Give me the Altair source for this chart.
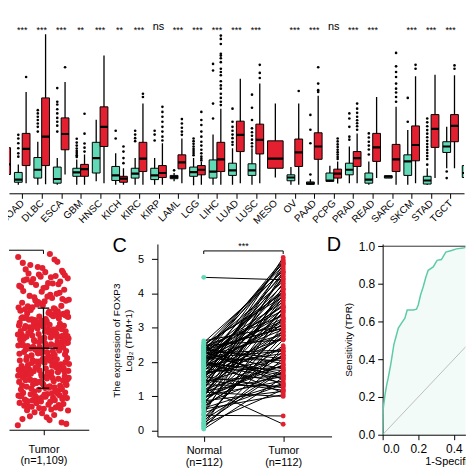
import altair as alt
import pandas as pd

TEAL = "#62D9B6"
RED = "#E3202F"
ROC = "#5ECBA8"
FONT = "Liberation Sans"

# ---------------- Panel A: pan-cancer boxplots ----------------
cancers = ["CHOL", "COAD", "DLBC", "ESCA", "GBM", "HNSC", "KICH", "KIRC", "KIRP",
           "LAML", "LGG", "LIHC", "LUAD", "LUSC", "MESO", "OV", "PAAD", "PCPG",
           "PRAD", "READ", "SARC", "SKCM", "STAD", "TGCT", "THCA"]

# [lower whisker, Q1, median, Q3, upper whisker]
normal_box = [
    [0.30, 0.67, 0.90, 1.40, 2.23], [0.29, 0.37, 0.46, 0.70, 0.97],
    [0.29, 0.51, 0.79, 1.20, 1.73], [0.29, 0.34, 0.48, 0.88, 1.18],
    [0.29, 0.57, 0.70, 0.84, 1.13], [0.40, 0.68, 1.18, 1.71, 2.47],
    [0.29, 0.43, 0.60, 0.90, 1.34], [0.29, 0.51, 0.66, 0.84, 1.18],
    [0.29, 0.46, 0.60, 0.84, 1.18], [0.40, 0.49, 0.54, 0.60, 0.68],
    [0.27, 0.57, 0.71, 0.88, 1.18], [0.29, 0.51, 0.73, 1.12, 1.97],
    [0.29, 0.60, 0.77, 1.01, 1.51], [0.29, 0.60, 0.77, 0.99, 1.51],
    None,
    [0.29, 0.42, 0.53, 0.62, 0.88], [0.29, 0.30, 0.33, 0.38, 0.47],
    [0.40, 0.40, 0.43, 0.68, 0.92], [0.34, 0.62, 0.79, 1.01, 1.57],
    [0.29, 0.34, 0.46, 0.68, 1.07], [0.51, 0.51, 0.56, 0.59, 0.59],
    [0.29, 0.60, 1.07, 1.29, 2.12], [0.29, 0.31, 0.43, 0.57, 0.84],
    [0.84, 1.37, 1.57, 1.73, 2.23], [0.29, 0.53, 0.68, 0.93, 1.18],
]
tumor_box = [
    [0.50, 0.63, 0.97, 1.53, 2.47], [0.34, 0.93, 1.49, 2.01, 3.40],
    [0.30, 0.93, 1.90, 3.20, 5.34], [0.63, 1.46, 1.99, 2.53, 3.73],
    [0.29, 0.57, 0.81, 0.97, 1.30], [0.34, 1.57, 2.23, 2.90, 4.62],
    [0.29, 0.37, 0.49, 0.57, 0.84], [0.29, 0.73, 1.16, 1.71, 3.01],
    [0.29, 0.53, 0.68, 0.93, 1.68], [0.34, 0.82, 1.04, 1.29, 1.84],
    [0.29, 0.62, 0.79, 0.93, 1.05], [0.29, 0.73, 1.14, 1.71, 2.84],
    [0.34, 1.40, 1.96, 2.42, 3.84], [0.34, 1.32, 1.79, 2.32, 3.68],
    [0.53, 0.84, 1.16, 1.76, 3.01],
    [0.29, 0.90, 1.37, 1.82, 3.01], [0.29, 1.14, 1.57, 2.03, 3.27],
    [0.33, 0.51, 0.66, 0.81, 1.07], [0.34, 0.90, 1.18, 1.40, 2.01],
    [0.51, 1.07, 1.54, 2.01, 3.23], [0.29, 0.73, 1.14, 1.64, 2.90],
    [0.34, 1.09, 1.62, 2.26, 3.93], [0.51, 1.54, 2.16, 2.64, 3.98],
    [0.84, 1.73, 2.26, 2.64, 3.96], [0.40, 1.40, 1.90, 2.40, 3.80],
]
normal_out = {
    "COAD": [1.96, 1.84, 1.68, 1.51, 1.34, 1.23],
    "DLBC": [2.79, 2.68, 2.57, 2.46, 2.34, 2.23, 2.07],
    "ESCA": [3.53, 3.07, 2.98, 2.82, 2.68, 2.53, 2.40, 2.27, 2.07],
    "GBM": [1.83, 1.70, 1.60, 1.50, 1.42, 1.35, 1.28, 1.22],
    "KICH": [2.10, 1.84],
    "KIRC": [2.10, 1.97, 1.85, 1.75],
    "KIRP": [2.10, 1.97, 1.77],
    "LAML": [0.77],
    "LGG": [1.84, 1.75, 1.66, 1.57, 1.49, 1.42, 1.35, 1.28],
    "LIHC": [4.34, 4.12, 3.01, 2.51],
    "LUAD": [2.84, 2.40, 2.23, 2.10, 1.97, 1.85, 1.72, 1.63],
    "LUSC": [3.31, 2.87, 2.46, 2.18, 2.05, 1.93, 1.80, 1.68, 1.57],
    "PAAD": [2.63, 2.13, 1.68, 0.63],
    "PRAD": [2.68, 2.51, 2.23, 1.90, 1.80],
    "READ": [2.01, 1.87, 1.73, 1.60, 1.47, 1.30],
    "SKCM": [3.20, 2.40],
    "STAD": [2.51, 2.38, 2.25, 2.12, 2.00, 1.88, 1.76, 1.65, 1.55, 1.45, 1.35, 1.25, 1.15, 0.96],
    "TGCT": [0.73, 0.51],
    "THCA": [2.97, 2.60, 2.35, 2.20, 2.05, 1.92, 1.80, 1.68, 1.57, 1.47, 1.37, 1.30],
}
tumor_out = {
    "CHOL": [4.10],
    "COAD": [3.90],
    "ESCA": [4.23],
    "GBM": [2.67, 2.00, 1.67, 1.53, 1.40],
    "KICH": [1.57, 1.40, 1.18, 1.01],
    "KIRC": [3.34, 3.23],
    "KIRP": [2.90, 2.73, 2.57, 2.40, 2.23, 2.07, 1.90, 1.77],
    "LAML": [2.49, 2.34, 2.20, 2.07, 1.96],
    "LGG": [2.73, 2.46, 2.29, 2.07, 1.90, 1.73, 1.60, 1.46, 1.34, 1.23, 1.16, 1.10],
    "LIHC": [5.29, 5.18, 5.01, 4.68, 4.62, 4.53, 4.40, 4.18, 4.07, 3.96, 3.76, 3.62,
             3.51, 3.34, 3.20, 3.07, 2.96],
    "LUSC": [4.31, 4.04, 3.87],
    "OV": [3.43],
    "PAAD": [4.23, 3.68, 3.46, 3.40],
    "PCPG": [1.84, 1.74, 1.64, 1.55, 1.46, 1.38, 1.30, 1.22, 1.15],
    "PRAD": [3.01, 2.84, 2.70, 2.57, 2.45, 2.35, 2.25, 2.13],
    "SARC": [4.71, 4.26, 4.07, 3.90, 3.68, 3.51, 3.38, 3.23, 3.07],
    "SKCM": [4.31, 4.18],
    "TGCT": [4.29, 4.18],
}
signif = ["***", "***", "***", "***", "**", "***", "**", "***", "ns", "***", "***", "***",
          "***", "***", "", "***", "***", "ns", "***", "***", "", "***", "***", "***", "***"]

# ---------------- Panel B: unpaired tumor samples ----------------
tumor_all = [
    0.03, 0.18, 0.29, 0.11, 0.38, 0.21, 0.33, 0.41, 0.07, 0.26,
    0.47, 0.62, 0.53, 0.68, 0.49, 0.57, 0.65, 0.51, 0.6, 0.55, 0.67, 0.46, 0.63, 0.58, 0.52,
    0.72, 0.91, 0.83, 0.77, 0.98, 0.86, 0.74, 0.95, 0.81, 0.89, 0.71, 0.93, 0.79, 0.85,
    0.97, 0.76, 0.88, 0.82, 0.94, 0.73, 0.9, 0.8, 0.87, 0.96, 0.75, 0.84, 0.92, 0.78,
    1.03, 1.27, 1.41, 1.12, 1.35, 1.08, 1.46, 1.19, 1.31, 1.01, 1.24, 1.44, 1.15, 1.38,
    1.06, 1.29, 1.48, 1.1, 1.33, 1.21, 1.42, 1.04, 1.26, 1.37, 1.14, 1.49, 1.18, 1.3,
    1.07, 1.4, 1.22, 1.45, 1.11, 1.34, 1.02, 1.28, 1.47, 1.16, 1.36, 1.09, 1.25, 1.43,
    1.13, 1.32, 1.2, 1.39,
    1.52, 1.77, 1.63, 1.91, 1.58, 1.84, 1.69, 1.97, 1.55, 1.72, 1.88, 1.61, 1.94, 1.66,
    1.8, 1.51, 1.75, 1.99, 1.6, 1.86, 1.68, 1.93, 1.57, 1.79, 1.64, 1.9, 1.53, 1.73,
    1.96, 1.62, 1.83, 1.7, 1.98, 1.56, 1.78, 1.65, 1.89, 1.54, 1.76, 1.92, 1.59, 1.85,
    1.67, 1.95, 1.71, 1.81,
    2.03, 2.28, 2.41, 2.14, 2.36, 2.07, 2.47, 2.19, 2.32, 2.01, 2.25, 2.44, 2.11, 2.38,
    2.06, 2.29, 2.49, 2.16, 2.34, 2.22, 2.43, 2.04, 2.27, 2.39, 2.13, 2.46, 2.18, 2.31,
    2.09, 2.4, 2.23, 2.45, 2.12, 2.35, 2.02, 2.26, 2.48, 2.17, 2.37, 2.08, 2.24, 2.42,
    2.15, 2.33, 2.2, 2.3,
    2.53, 2.78, 2.64, 2.92, 2.57, 2.85, 2.69, 2.97, 2.55, 2.73, 2.88, 2.61, 2.94, 2.66,
    2.81, 2.51, 2.76, 2.99, 2.6, 2.86, 2.68, 2.93, 2.58, 2.79, 2.63, 2.9, 2.54, 2.74,
    2.96, 2.62, 2.83, 2.71, 2.98, 2.56, 2.77, 2.65, 2.89, 2.52, 2.75, 2.91, 2.59, 2.84,
    2.67, 2.95, 2.72, 2.82,
    3.02, 3.17, 3.26, 3.09, 3.21, 3.05, 3.28, 3.13, 3.19, 3.01, 3.24, 3.11, 3.27, 3.07,
    3.15, 3.22, 3.04, 3.18, 3.29, 3.1, 3.25, 3.06, 3.14, 3.2, 3.03, 3.23, 3.12, 3.16,
    3.34, 3.61, 3.45, 3.82, 3.38, 3.7, 3.52, 3.93, 3.41, 3.66, 3.31, 3.77, 3.49, 3.88,
    3.57, 3.36, 3.73, 3.46, 3.97, 3.63, 3.4, 3.85, 3.54, 3.68, 3.33, 3.79, 3.5, 3.91,
    3.59, 3.43, 3.75, 3.65,
    4.04, 4.27, 4.13, 4.41, 4.08, 4.33, 4.19, 4.47, 4.02, 4.24, 4.37, 4.11, 4.3, 4.16, 4.44,
    4.21, 4.35, 4.05, 4.15, 4.28, 4.39, 4.48,
    4.56, 4.78, 4.63, 4.92, 5.01, 4.69, 4.52, 4.6, 4.75, 4.85,
]

# ---------------- Panel C: paired samples ----------------
paired_normal = [
    4.47, 1.25, 0.45, 0.05, 0.12, 0.18, 0.25, 0.31, 0.38, 0.52, 0.58, 0.63, 0.69, 0.74,
    0.79, 0.83, 0.87, 0.91, 0.95, 0.99, 1.02, 1.06, 1.09, 1.12, 1.15, 1.18, 1.21, 1.28,
    1.31, 1.34, 1.37, 1.40, 1.43, 1.46, 1.49, 1.52, 1.55, 1.58, 1.61, 1.64, 1.67, 1.70,
    1.72, 1.75, 1.78, 1.80, 1.83, 1.86, 1.88, 1.91, 1.93, 1.96, 1.98, 2.01, 2.03, 2.06,
    2.08, 2.10, 2.13, 2.15, 2.17, 2.20, 2.22, 2.24, 2.26, 2.28, 2.30, 2.32, 2.34, 2.36,
    2.38, 2.40, 2.42, 2.44, 2.46, 2.48, 2.50, 2.53, 2.57, 2.62, 0.08, 0.15, 0.22, 0.34,
    0.48, 0.66, 0.85, 1.00, 1.14, 1.24, 1.36, 1.48, 1.57, 1.66, 1.77, 1.85, 1.94, 2.05,
    2.12, 2.19, 2.27, 2.33, 2.39, 2.45, 1.03, 0.72, 1.60, 1.90, 2.00, 2.09, 2.21, 0.95,
]
paired_tumor = [
    4.40, 0.19, 0.43, 1.55, 2.10, 1.20, 3.05, 1.80, 2.65, 1.35, 3.60, 1.05, 2.30, 4.10,
    1.70, 2.85, 1.15, 3.30, 2.00, 4.60, 1.45, 3.80, 2.20, 1.00, 3.15, 4.85, 1.90, 2.75,
    3.95, 1.30, 4.30, 2.15, 3.45, 1.60, 5.05, 2.90, 3.70, 1.25, 4.15, 2.40, 3.25, 4.75,
    1.85, 3.55, 2.70, 4.45, 1.40, 3.10, 4.95, 2.25, 3.85, 1.75, 4.25, 2.95, 3.40, 1.10,
    4.55, 2.05, 3.65, 4.90, 2.80, 1.65, 3.20, 4.05, 2.35, 3.75, 1.50, 4.70, 3.00, 2.10,
    4.35, 3.50, 1.95, 4.80, 3.35, 2.65, 4.00, 3.90, 4.65, 3.05, 2.42, 3.50, 1.75, 2.78,
    4.20, 1.38, 2.48, 3.58, 1.58, 4.50, 2.88, 1.18, 3.98, 2.12, 4.62, 3.18, 1.52, 4.12,
    2.32, 3.62, 1.80, 4.88, 2.98, 1.32, 3.88, 2.20, 2.68, 4.42, 1.62, 3.28, 4.98, 1.92,
]

# ---------------- Panel D: ROC curve ----------------
roc_fpr = [0, 0.003, 0.013, 0.022, 0.031, 0.045, 0.056, 0.063, 0.075, 0.088, 0.106, 0.125,
           0.138, 0.172, 0.19, 0.2, 0.213, 0.228, 0.243, 0.256, 0.284, 0.306, 0.33, 0.355,
           0.387, 0.415, 0.452, 0.48, 0.6, 1.0]
roc_tpr = [0, 0.137, 0.21, 0.26, 0.30, 0.37, 0.435, 0.478, 0.52, 0.566, 0.592, 0.618,
           0.662, 0.662, 0.666, 0.688, 0.741, 0.785, 0.837, 0.872, 0.89, 0.925, 0.929, 0.969,
           0.977, 0.986, 0.99, 0.998, 1.0, 1.0]

one = pd.DataFrame({"k": [0]})


def anchor(**enc):
    # invisible rule that pins the outer bounds of the figure
    return alt.Chart(one).mark_rule(color="white", strokeOpacity=0, strokeWidth=1).encode(**enc)


# =============== build panel A ===============
box_rows, out_rows = [], []
for i, c in enumerate(cancers):
    groups = [("Normal", normal_box[i], normal_out.get(c, [])),
              ("Tumor", tumor_box[i], tumor_out.get(c, []))]
    present = [g for g in groups if g[1] is not None]
    for grp, st, outl in present:
        if len(present) == 2:
            ctr = i - 0.2 if grp == "Normal" else i + 0.2
            half = 0.2
        else:
            ctr, half = float(i), 0.4
        box_rows.append(dict(cancer=c, group=grp, center=ctr, lo=ctr - half, hi=ctr + half,
                             low=st[0], q1=st[1], med=st[2], q3=st[3], high=st[4]))
        for v in outl:
            out_rows.append(dict(cancer=c, group=grp, center=ctr, value=v))
box_df = pd.DataFrame(box_rows)
out_df = pd.DataFrame(out_rows)
sig_df = pd.DataFrame({"pos": list(range(len(cancers))), "label": signif})
sig_df["yv"] = 5.57

cscale = alt.Scale(domain=["Normal", "Tumor"], range=[TEAL, RED])
xs = alt.Scale(domain=[0.321, 23.689], nice=False, zero=False)
ys = alt.Scale(domain=[0, 6.133], nice=False, zero=False)
names_js = "[" + ",".join("'%s'" % c for c in cancers) + "]"
xa = alt.Axis(values=list(range(1, len(cancers))), labelExpr=names_js + "[datum.value]",
              labelAngle=315, labelAlign="right", labelBaseline="middle", labelFontSize=10,
              labelPadding=3, tickSize=5, title=None, labelOverlap=False)


def ax(f):
    return alt.X(f, type="quantitative", scale=xs, axis=xa)


def ay(f):
    return alt.Y(f, type="quantitative", scale=ys, axis=None)


whisk = alt.Chart(box_df).mark_rule(color="black", strokeWidth=1.3, clip=True).encode(
    x=ax("center"), y=ay("low"), y2="high")
boxes = alt.Chart(box_df).mark_bar(stroke="black", strokeWidth=1, clip=True).encode(
    x=ax("lo"), x2="hi", y=ay("q1"), y2="q3",
    color=alt.Color("group:N", scale=cscale, legend=None))
meds = alt.Chart(box_df).mark_rule(color="black", strokeWidth=2.2, clip=True).encode(
    x=ax("lo"), x2="hi", y=ay("med"))
outs = alt.Chart(out_df).mark_circle(color="black", size=7, opacity=1, clip=True).encode(
    x=ax("center"), y=ay("value"))
sig_star = alt.Chart(sig_df).transform_filter("datum.label != 'ns'").mark_text(
    fontSize=9, baseline="middle", dy=3, color="black", clip=True).encode(
    x=ax("pos"), y=ay("yv"), text="label:N")
sig_ns = alt.Chart(sig_df).transform_filter("datum.label == 'ns'").mark_text(
    fontSize=11, baseline="middle", color="black", clip=True).encode(
    x=ax("pos"), y=ay("yv"), text="label:N")
left_pin = anchor(x=alt.value(-40), y=alt.value(0), y2=alt.value(1))
panelA = alt.layer(whisk, boxes, meds, outs, sig_star, sig_ns, left_pin).properties(
    width=458, height=184)

# =============== build panel B ===============
b_df = pd.DataFrame({"v": tumor_all})
b_df["i"] = list(range(len(b_df)))
bxs = alt.Scale(domain=[1.563, 2.574], nice=False, zero=False)
bys = alt.Scale(domain=[-0.1, 5.3], nice=False, zero=False)
bxa = alt.Axis(values=[2], labelExpr="['Tumor', '(n=1,109)']", labelFontSize=11,
               labelLineHeight=11, tickSize=5, labelPadding=9, title=None,
               labelOverlap=False)


def bx(f):
    return alt.X(f, type="quantitative", scale=bxs, axis=bxa)


def by(f):
    return alt.Y(f, type="quantitative", scale=bys, axis=None)


bpts = alt.Chart(b_df).transform_calculate(
    jx="2 + (((datum.i * 0.6180339887) % 1) - 0.5) * 0.65").mark_circle(
    color=RED, size=38, opacity=1).encode(x=bx("jx"), y=by("v"))
bstat = alt.Chart(b_df).transform_aggregate(m="mean(v)", s="stdev(v)").transform_calculate(
    lo="datum.m - datum.s", hi="datum.m + datum.s", xc="2", cl="1.927", cr="2.073",
    ml="1.82", mr="2.18")
bvbar = bstat.mark_rule(color="black", strokeWidth=1.3).encode(x=bx("xc"), y=by("lo"), y2="hi")
bcap1 = bstat.mark_rule(color="black", strokeWidth=1.3).encode(x=bx("cl"), x2="cr", y=by("lo"))
bcap2 = bstat.mark_rule(color="black", strokeWidth=1.3).encode(x=bx("cl"), x2="cr", y=by("hi"))
bmean = bstat.mark_rule(color="black", strokeWidth=1.3).encode(x=bx("ml"), x2="mr", y=by("m"))
bbr_df = pd.DataFrame({"a": [1.0], "b": [2.0], "y": [5.118], "yb": [5.011]})
bbr = alt.Chart(bbr_df).mark_rule(color="black", strokeWidth=1, clip=True).encode(
    x=bx("a"), x2="b", y=by("y"))
bbr2 = alt.Chart(bbr_df).mark_rule(color="black", strokeWidth=1, clip=True).encode(
    x=bx("b"), y=by("yb"), y2="y")
panelB = alt.layer(bpts, bvbar, bcap1, bcap2, bmean, bbr, bbr2).properties(width=80.3, height=187)

# =============== build panel C ===============
n = len(paired_normal)
c_df = pd.DataFrame({
    "pair": list(range(n)) * 2,
    "g": [1] * n + [2] * n,
    "group": ["Normal"] * n + ["Tumor"] * n,
    "v": paired_normal + paired_tumor,
})
cxs = alt.Scale(domain=[0.417, 2.609], nice=False, zero=False)
cys = alt.Scale(domain=[-0.165, 5.443], nice=False, zero=False)
cxa = alt.Axis(values=[1, 2],
               labelExpr="datum.value == 1 ? ['Normal', '(n=112)'] : ['Tumor', '(n=112)']",
               labelFontSize=11, labelLineHeight=12, tickSize=5, labelPadding=3, title=None,
               labelOverlap=False)
cya = alt.Axis(values=[0, 1, 2, 3, 4, 5], labelFontSize=11, tickSize=6, labelPadding=8,
               title=["The expression of FOXP3", "Log\u2082 (TPM+1)"], titleFontSize=10,
               titlePadding=4, titleFontWeight="normal")


def cx(f):
    return alt.X(f, type="quantitative", scale=cxs, axis=cxa)


def cy(f):
    return alt.Y(f, type="quantitative", scale=cys, axis=cya)


clines = alt.Chart(c_df).mark_line(color="black", strokeWidth=1).encode(
    x=cx("g"), y=cy("v"), detail="pair:N")
cpts = alt.Chart(c_df).mark_circle(size=24, opacity=1).encode(
    x=cx("g"), y=cy("v"), color=alt.Color("group:N", scale=cscale, legend=None))
cbr_df = pd.DataFrame({"a": [1.0], "b": [2.0], "y": [5.24], "yb": [5.15], "tx": [1.5],
                       "ty": [5.37], "t": ["***"]})
cbr = alt.Chart(cbr_df).mark_rule(color="black", strokeWidth=1).encode(
    x=cx("a"), x2="b", y=cy("y"))
cbr1 = alt.Chart(cbr_df).mark_rule(color="black", strokeWidth=1).encode(
    x=cx("a"), y=cy("yb"), y2="y")
cbr2 = alt.Chart(cbr_df).mark_rule(color="black", strokeWidth=1).encode(
    x=cx("b"), y=cy("yb"), y2="y")
ctxt = alt.Chart(cbr_df).mark_text(fontSize=9, baseline="middle", color="black").encode(
    x=cx("tx"), y=cy("ty"), text="t:N")
cletter = alt.Chart(pd.DataFrame({"t": ["C"]})).mark_text(
    fontSize=20, baseline="middle", align="center", color="black").encode(
    x=alt.value(-38), y=alt.value(2.5), text="t:N")
panelC = alt.layer(clines, cpts, cbr, cbr1, cbr2, ctxt, cletter).properties(
    width=175.3, height=193.7)

# =============== build panel D ===============
roc_df = pd.DataFrame({"fpr": roc_fpr, "tpr": roc_tpr})
diag_df = pd.DataFrame({"fpr": [0.0, 1.0], "tpr": [0.0, 1.0]})
dxs = alt.Scale(domain=[0, 0.465], nice=False, zero=False)
dys = alt.Scale(domain=[0, 1.012], nice=False, zero=False)
dxa = alt.Axis(values=[0, 0.2, 0.4], format=".1f", labelFontSize=12, tickSize=5,
               labelPadding=4, title="1-Specificity (FPR)", titleFontSize=11,
               titleFontWeight="normal", titleX=42.3, titleY=30, titleAlign="left",
               titleBaseline="alphabetic")
dya = alt.Axis(values=[0, 0.2, 0.4, 0.6, 0.8, 1.0], format=".1f", labelFontSize=12,
               tickSize=5, labelPadding=3, title="Sensitivity (TPR)", titleFontSize=10,
               titlePadding=5, titleFontWeight="normal")


def dx(f):
    return alt.X(f, type="quantitative", scale=dxs, axis=dxa)


def dy(f):
    return alt.Y(f, type="quantitative", scale=dys, axis=dya)


darea = alt.Chart(roc_df).mark_area(color=ROC, opacity=0.08, clip=True).encode(
    x=dx("fpr"), y=dy("tpr"))
ddiag = alt.Chart(diag_df).mark_line(color="#BDBDBD", strokeWidth=1, clip=True).encode(
    x=dx("fpr"), y=dy("tpr"))
dline = alt.Chart(roc_df).mark_line(color=ROC, strokeWidth=1.5, clip=True).encode(
    x=dx("fpr"), y=dy("tpr"))
dfr_df = pd.DataFrame({"a": [0.0], "b": [1.0], "y": [1.0]})
dframe = alt.Chart(dfr_df).mark_rule(color="#333333", strokeWidth=1, clip=True).encode(
    x=dx("a"), x2="b", y=dy("y"))
dletter = alt.Chart(pd.DataFrame({"t": ["D"]})).mark_text(
    fontSize=20, baseline="middle", align="center", color="black").encode(
    x=alt.value(-49), y=alt.value(1.5), text="t:N")
right_pin = anchor(x=alt.value(143.3), y=alt.value(0), y2=alt.value(1))
bottom_pin = anchor(x=alt.value(0), x2=alt.value(1), y=alt.value(235))
panelD = alt.layer(darea, ddiag, dline, dframe, dletter, right_pin, bottom_pin).properties(
    width=83.3, height=192)

# =============== assemble ===============
cd = alt.hconcat(panelC, panelD, spacing=50.7, bounds="flush")
bottom = alt.hconcat(panelB, cd, spacing=68.4, bounds="flush")
chart = alt.vconcat(panelA, bottom, spacing=51, bounds="flush").properties(
    padding={"left": -40, "top": 0, "right": -60, "bottom": -12})
chart = chart.configure_view(stroke="transparent").configure_axis(
    grid=False, domainColor="black", tickColor="black", labelColor="black",
    titleColor="black", labelFont=FONT, titleFont=FONT, domainWidth=1, tickWidth=1
).configure_text(font=FONT)

chart.save("out.html", embed_options={"renderer": "svg", "actions": False})
